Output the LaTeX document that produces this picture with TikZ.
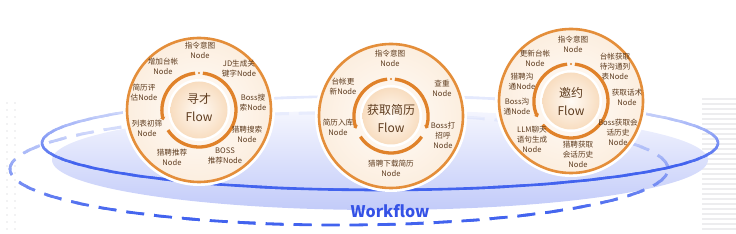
\documentclass[tikz,border=0pt]{standalone}
\usepackage{fontspec}
\setmainfont{Noto Sans CJK SC}
\usepackage{tikz}
\usetikzlibrary{arrows.meta,calc}

\definecolor{ringorange}{HTML}{E48E3A}
\definecolor{arcorange}{HTML}{E0822A}
\definecolor{nodebrown}{HTML}{5E3C1F}
\definecolor{wfblue}{HTML}{4263EE}
\definecolor{wftext}{HTML}{3552E6}
\definecolor{creamin}{HTML}{FFFCF9}
\definecolor{creamout}{HTML}{FCEEDF}
\definecolor{peachin}{HTML}{FFFAF5}
\definecolor{peachout}{HTML}{F8DDC0}
\definecolor{lavtop}{HTML}{F5F6FE}
\definecolor{lavbot}{HTML}{C2CBF9}
\definecolor{decogray}{HTML}{EDEDEF}

\begin{document}
\begin{tikzpicture}[x=1pt, y=1pt,
        lbl/.style={font=\fontsize{7.6}{10}\selectfont, text=nodebrown, align=center, inner sep=0pt},
        hub/.style={font=\fontsize{12}{18}\selectfont, text=nodebrown, align=center, inner sep=0pt},
        halo/.style={fill=white},
        outerdisk/.style={inner color=creamin, outer color=creamout},
        ringline/.style={draw=ringorange, line width=2.6pt},
        innerdisk/.style={inner color=peachin, outer color=peachout},
        arcline/.style={draw=arcorange, line width=3.3pt},
        arctip/.style={arcline, -{Stealth[length=3pt, width=5.5pt]}},
      ]
      \useasboundingbox (0,0) rectangle (736,233);

      % faint background
      \foreach \x in {7,15}
        \foreach \y in {4,11,...,130}
          \fill[decogray] (\x,\y) circle (1.1);
      \foreach \y in {4,9,...,135}
        \draw[decogray, line width=1.6pt] (702,\y) -- (736,\y);

      % Workflow plate
      \shade[top color=lavtop, bottom color=lavbot] (380,73) ellipse [x radius=328, y radius=50];
      \foreach \yb in {0,4,...,124} {
        \pgfmathsetmacro\pct{min(100,max(12,100-(\yb+2-20)*0.9))}
        \begin{scope}
          \clip (0,\yb-0.3) rectangle (736,\yb+4.3);
          \draw[wfblue!\pct!white, line width=2.8pt, dash pattern=on 18pt off 10pt]
            (339,64) ellipse [x radius=329, y radius=56];
        \end{scope}
      }
      \foreach \yb in {40,44,...,140} {
        \pgfmathsetmacro\pct{min(100,max(14,100-(\yb+2-70)*1.4))}
        \begin{scope}
          \clip (0,\yb-0.3) rectangle (736,\yb+4.3);
          \draw[wfblue!\pct!white, line width=2.6pt] (380,90) ellipse [x radius=338, y radius=47];
        \end{scope}
      }
      \node[font=\fontsize{16}{18}\selectfont\bfseries, text=wftext, inner sep=0pt] (wf) at (390,22) {Workflow};

      % 寻才 Flow
      \coordinate (c1) at (199,123);
      \fill[halo] (c1) circle (76);
      \shade[outerdisk] (c1) circle (72);
      \draw[ringline] (c1) circle (72);
      \draw[arctip] ($(c1)+(96:37)$) arc[start angle=96, end angle=196, radius=37];
      \draw[arcline] ($(c1)+(213:37)$) arc[start angle=213, end angle=444, radius=37];
      \fill[arcorange] ($(c1)+(90:37)$) circle (1.2);
      \fill[halo] (c1) circle (31);
      \shade[innerdisk] (c1) circle (28.5);
      \node [hub] (xchub) at (199,125) {寻才\\Flow};
      \node [lbl] (xcintent) at (200,183) {指令意图\\Node};
      \node [lbl] (xcledger) at (163,167) {增加台帐\\Node};
      \node [lbl] (xcjd) at (239,164) {JD生成关\\键字Node};
      \node [lbl] (xceval) at (144,140) {简历评\\估Node};
      \node [lbl] (xcboss) at (253,130) {Boss搜\\索Node};
      \node [lbl] (xcscreen) at (147,105) {列表初筛\\Node};
      \node [lbl] (xclpsearch) at (247,99) {猎聘搜索\\Node};
      \node [lbl] (xclprec) at (172,76) {猎聘推荐\\Node};
      \node [lbl] (xcbossrec) at (225,77) {BOSS\\推荐Node};

      % 获取简历 Flow
      \coordinate (c2) at (391,117);
      \fill[halo] (c2) circle (76);
      \shade[outerdisk] (c2) circle (72);
      \draw[ringline] (c2) circle (72);
      \draw[arctip] ($(c2)+(96:37)$) arc[start angle=96, end angle=200, radius=37];
      \draw[arcline] ($(c2)+(214:37)$) arc[start angle=214, end angle=326, radius=37];
      \draw[arctip] ($(c2)+(84:37)$) arc[start angle=84, end angle=-20, radius=37];
      \fill[arcorange] ($(c2)+(90:37)$) circle (1.2);
      \fill[halo] (c2) circle (31);
      \shade[innerdisk] (c2) circle (28.5);
      \node [hub] (hqhub) at (391,114) {获取简历\\Flow};
      \node [lbl] (hqintent) at (390,175) {指令意图\\Node};
      \node [lbl] (hqledger) at (343,146) {台帐更\\新Node};
      \node [lbl] (hqdedup) at (442,145) {查重\\Node};
      \node [lbl] (hqstore) at (338,106) {简历入库\\Node};
      \node [lbl] (hqgreet) at (443,98) {Boss打\\招呼\\Node};
      \node [lbl] (hqdownload) at (391,65) {猎聘下载简历\\Node};

      % 邀约 Flow
      \coordinate (c3) at (571,132);
      \fill[halo] (c3) circle (76);
      \shade[outerdisk] (c3) circle (72);
      \draw[ringline] (c3) circle (72);
      \draw[arctip] ($(c3)+(96:37)$) arc[start angle=96, end angle=206, radius=37];
      \draw[arcline] ($(c3)+(220:37)$) arc[start angle=220, end angle=444, radius=37];
      \fill[arcorange] ($(c3)+(90:37)$) circle (1.2);
      \fill[halo] (c3) circle (31);
      \shade[innerdisk] (c3) circle (28.5);
      \node [hub] (yyhub) at (571,131.5) {邀约\\Flow};
      \node [lbl] (yyintent) at (573,189) {指令意图\\Node};
      \node [lbl] (yyledger) at (535,175) {更新台帐\\Node};
      \node [lbl] (yylist) at (615,166) {台帐获取\\待沟通列\\表Node};
      \node [lbl] (yylpchat) at (522,151) {猎聘沟\\通Node};
      \node [lbl] (yyscript) at (627,136) {获取话术\\Node};
      \node [lbl] (yybosschat) at (517,126) {Boss沟\\通Node};
      \node [lbl] (yybosshist) at (618,101) {Boss获取会\\话历史\\Node};
      \node [lbl] (yyllm) at (532,94) {LLM聊天\\语句生成\\Node};
      \node [lbl] (yylphist) at (578,79) {猎聘获取\\会话历史\\Node};
    \end{tikzpicture}
\end{document}
